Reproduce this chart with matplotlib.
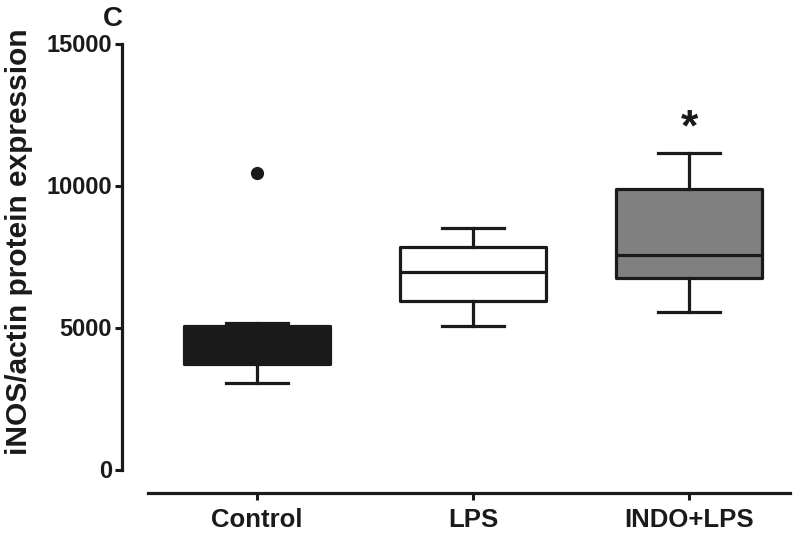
import matplotlib
matplotlib.use("Agg")
import matplotlib.pyplot as plt

plt.rcParams['font.family'] = ['Liberation Sans', 'DejaVu Sans']
plt.rcParams['font.weight'] = 'bold'

categories = ["Control", "LPS", "INDO+LPS"]
whislo = [3060, 5070, 5560]
q1 = [3730, 5950, 6760]
med = [4300, 6970, 7570]
q3 = [5070, 7820, 9860]
whishi = [5175, 8520, 11130]
fliers = [[10450], [], []]
fill_colors = ["#1a1a1a", "#ffffff", "#808080"]
yticks = [0, 5000, 10000, 15000]
star_y = 12000

fig = plt.figure(figsize=(8, 5.42), dpi=100)
ax = fig.add_axes([148/800, 1-493/542, (790-148)/800, (493-43.5)/542])

stats = []
for i, c in enumerate(categories):
    stats.append(dict(label=c, whislo=whislo[i], q1=q1[i], med=med[i],
                      q3=q3[i], whishi=whishi[i], fliers=fliers[i]))

lw = 2.3
col = "#1a1a1a"
bp = ax.bxp(stats, positions=[1, 2, 3], widths=0.675, patch_artist=True,
            showfliers=True,
            boxprops=dict(linewidth=lw, edgecolor=col),
            medianprops=dict(linewidth=lw, color=col),
            whiskerprops=dict(linewidth=lw, color=col),
            capprops=dict(linewidth=lw, color=col),
            flierprops=dict(marker='o', markerfacecolor=col, markeredgecolor=col,
                            markersize=8.5),
            capwidths=0.29)
for patch, fc in zip(bp['boxes'], fill_colors):
    patch.set_facecolor(fc)
    patch.set_joinstyle('round')

ax.set_xlim(1 - (257-148)/216, 3 + (790-689)/216)
ax.set_ylim(-(493-469.5)/28.4*1000, 15000)

for s in ['top', 'right']:
    ax.spines[s].set_visible(False)
ax.spines['left'].set_position(('outward', 19))
ax.spines['left'].set_bounds(0, 15000)
for s in ['left', 'bottom']:
    ax.spines[s].set_linewidth(2.3)
    ax.spines[s].set_color(col)

ax.set_yticks(yticks)
ax.set_yticklabels([str(v) for v in yticks])
ax.set_xticks([1, 2, 3])
ax.set_xticklabels(categories)
ax.tick_params(axis='both', width=2.2, length=5, color=col, labelcolor=col)
ax.tick_params(axis='x', pad=6, labelsize=18.5)
ax.tick_params(axis='y', pad=2, labelsize=17)
for lab in ax.get_xticklabels() + ax.get_yticklabels():
    lab.set_fontweight('bold')

ax.set_ylabel("iNOS/actin protein expression", fontsize=21.5, fontweight='bold',
              color=col)
ax.yaxis.set_label_coords((33-148)/642, (493-242)/449.5)
ax.text(3, star_y, "*", ha='center', va='center', fontsize=32,
        fontweight='bold', color=col)
fig.text(113/800, 1-19/542, "C", ha='center', va='center', fontsize=20,
         fontweight='bold', color=col)

fig.savefig("out.png", dpi=100)
